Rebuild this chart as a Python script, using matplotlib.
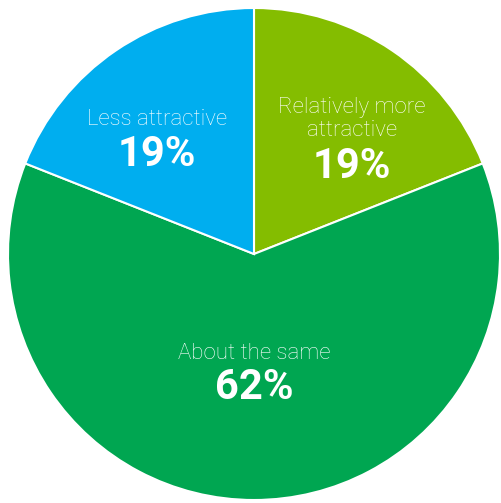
import matplotlib
matplotlib.use("Agg")
import matplotlib.pyplot as plt

# Survey shares, drawn clockwise from 12 o'clock
categories = ["Relatively more\nattractive", "About the same", "Less attractive"]
shares = [19, 62, 19]
colors = ["#84BD00", "#00A651", "#00AEEF"]

# Text anchor points (data units, pie radius = 1): (label_x, label_y, pct_y)
label_pos = [(0.398, 0.55, 0.355), (0.0, -0.406, -0.541), (-0.394, 0.545, 0.403)]

fig = plt.figure(figsize=(5.01, 5.03), dpi=100)
ax = fig.add_axes([8 / 501, 3 / 503, 492 / 501, 492 / 503])
ax.pie(shares, colors=colors, startangle=90, counterclock=False, radius=1,
       wedgeprops=dict(edgecolor="white", linewidth=1.5))
ax.set_xlim(-1, 1)
ax.set_ylim(-1, 1)
ax.set_aspect("equal")
ax.axis("off")

for cat, val, (lx, ly, py) in zip(categories, shares, label_pos):
    ax.text(lx, ly, cat, ha="center", va="center", color="white",
            fontsize=16, family="Roboto", fontweight="light", linespacing=1.15)
    ax.text(lx, py, f"{val}%", ha="center", va="center", color="white",
            fontsize=30, family="Roboto", fontweight="bold")

fig.savefig("out.png", dpi=100)
